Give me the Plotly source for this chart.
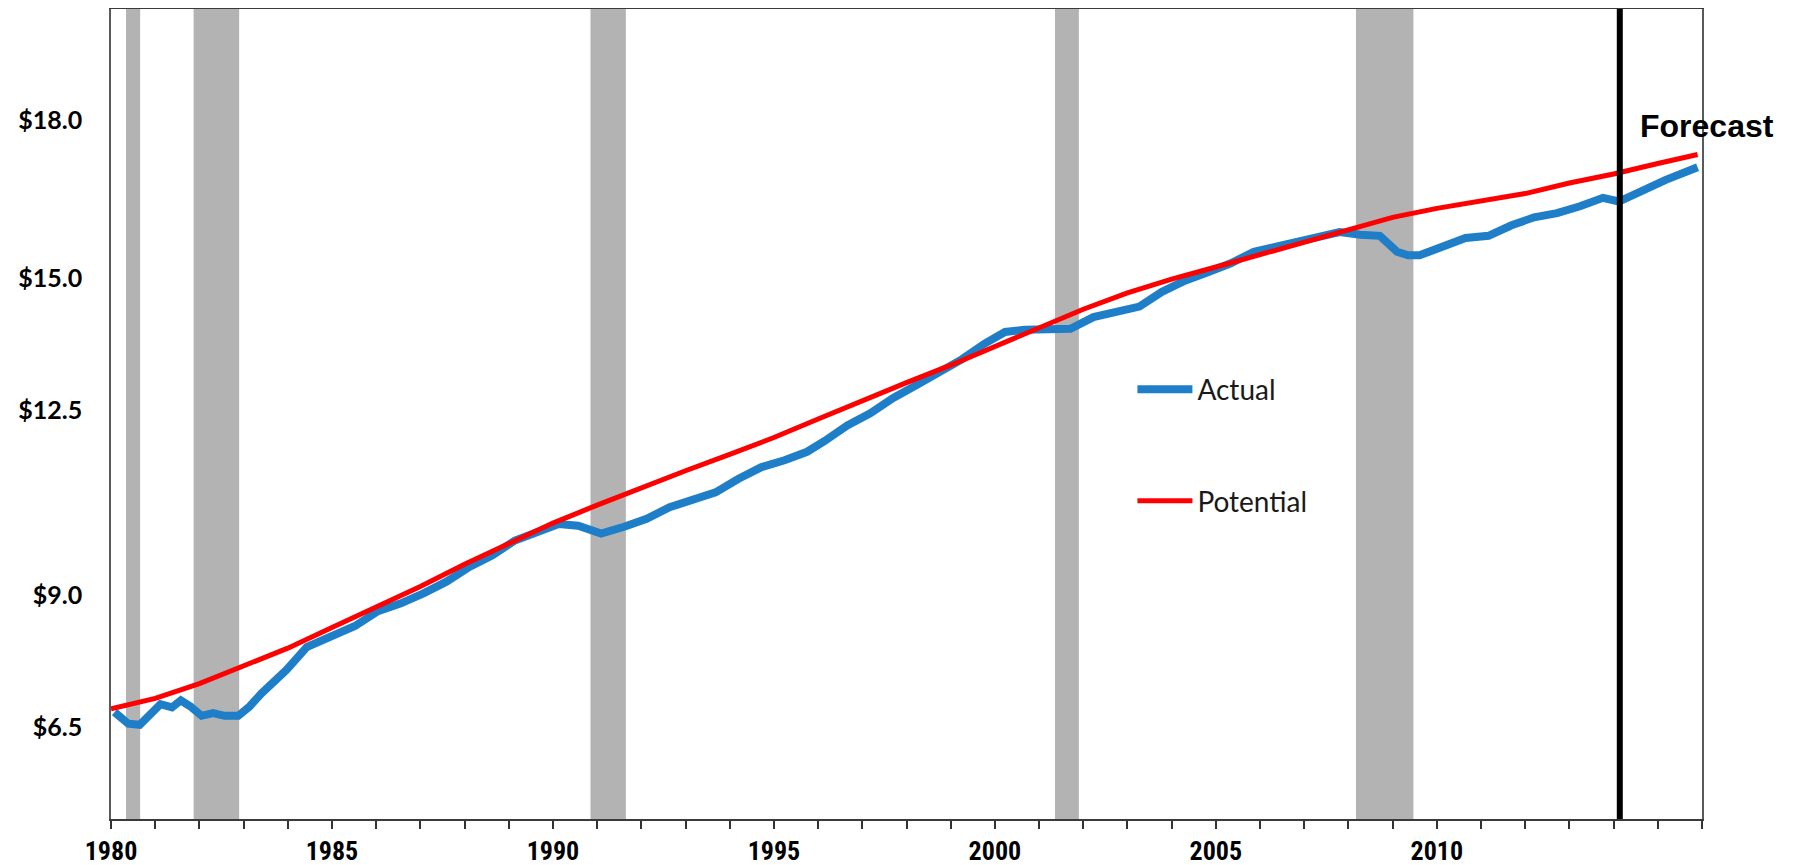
import plotly.graph_objects as go

# ---------------- data ----------------
actual_t = [1980.08, 1980.39, 1980.65, 1981.12, 1981.38, 1981.58, 1981.79, 1982.05, 1982.31,
            1982.57, 1982.88, 1983.14, 1983.40, 1983.97, 1984.43, 1985.00, 1985.52, 1986.04,
            1986.56, 1987.07, 1987.59, 1988.11, 1988.63, 1989.14, 1989.66, 1990.13, 1990.57,
            1991.09, 1991.61, 1992.12, 1992.64, 1993.16, 1993.68, 1994.20, 1994.72, 1995.24,
            1995.75, 1996.14, 1996.66, 1997.18, 1997.70, 1998.22, 1998.73, 1999.25, 1999.77,
            2000.23, 2000.67, 2001.19, 2001.71, 2002.23, 2002.75, 2003.27, 2003.78, 2004.30,
            2004.82, 2005.34, 2005.86, 2006.25, 2006.76, 2007.28, 2007.80, 2008.27, 2008.71,
            2009.10, 2009.35, 2009.61, 2010.13, 2010.65, 2011.17, 2011.69, 2012.20, 2012.72,
            2013.24, 2013.76, 2014.12, 2014.66, 2015.18, 2015.90]
actual_v = [6.79, 6.57, 6.55, 6.94, 6.88, 7.01, 6.90, 6.72, 6.77,
            6.72, 6.72, 6.90, 7.14, 7.59, 8.02, 8.24, 8.42, 8.70,
            8.85, 9.04, 9.26, 9.54, 9.76, 10.04, 10.22, 10.35, 10.32,
            10.17, 10.30, 10.45, 10.67, 10.80, 10.95, 11.21, 11.43, 11.56,
            11.72, 11.92, 12.22, 12.45, 12.74, 12.98, 13.23, 13.47, 13.77,
            13.99, 14.03, 14.05, 14.05, 14.27, 14.36, 14.47, 14.75, 14.96,
            15.12, 15.29, 15.51, 15.59, 15.68, 15.79, 15.88, 15.83, 15.81,
            15.51, 15.44, 15.44, 15.59, 15.77, 15.81, 16.01, 16.16, 16.24,
            16.37, 16.53, 16.46, 16.68, 16.87, 17.11]

potential_t = [1980.0, 1981, 1982, 1983, 1984, 1985, 1986, 1987, 1988, 1989, 1990, 1991,
               1992, 1993, 1994, 1995, 1996, 1997, 1998, 1999, 2000, 2001, 2002, 2003,
               2004, 2005, 2006, 2007, 2008, 2009, 2010, 2011, 2012, 2013, 2014, 2015, 2015.9]
potential_v = [6.85, 7.05, 7.33, 7.66, 8.00, 8.39, 8.78, 9.17, 9.59, 9.98, 10.37, 10.71,
               11.04, 11.36, 11.67, 11.99, 12.34, 12.69, 13.03, 13.36, 13.72, 14.08, 14.42, 14.73,
               14.99, 15.22, 15.46, 15.70, 15.94, 16.16, 16.33, 16.46, 16.61, 16.81, 16.98, 17.18, 17.35]

recession_start = [1980.34, 1981.87, 1990.85, 2001.36, 2008.17]
recession_end = [1980.66, 1982.90, 1991.65, 2001.90, 2009.47]

forecast_start = 2014.14

y_ticks = [6.5, 9.0, 12.5, 15.0, 18.0]
y_tick_text = ["$6.5", "$9.0", "$12.5", "$15.0", "$18.0"]
x_years = list(range(1980, 2017))
x_labeled = [1980, 1985, 1990, 1995, 2000, 2005, 2010]

# ---------------- figure ----------------
fig = go.Figure()

fig.add_trace(go.Scatter(
    x=actual_t, y=actual_v, mode="lines", name="Actual", legendgroup="a",
    line=dict(color="#1f7ec8", width=8),
))
fig.add_trace(go.Scatter(
    x=potential_t, y=potential_v, mode="lines", name="Potential", legendgroup="p",
    line=dict(color="#ff0000", width=5),
))

for s, e in zip(recession_start, recession_end):
    fig.add_shape(type="rect", xref="x", yref="paper", x0=s, x1=e, y0=0, y1=1,
                  fillcolor="#b3b3b3", line=dict(width=0), layer="below")

fig.add_shape(type="line", xref="x", yref="paper", x0=forecast_start, x1=forecast_start,
              y0=0, y1=1, line=dict(color="black", width=6))

fig.add_annotation(text="Forecast", xref="x", yref="paper", x=2014.55, y=0.856,
                   xanchor="left", yanchor="middle", showarrow=False,
                   font=dict(family="Liberation Sans, Arial", size=32, color="black", weight="bold"))

# the page body adds an 8px offset; figure size and margins compensate for it
fig.update_layout(
    width=1787, height=865, autosize=False,
    margin=dict(l=103, r=93, t=1, b=54, autoexpand=False),
    paper_bgcolor="white", plot_bgcolor="white",
    showlegend=True,
    legend=dict(x=0.642, y=0.561, xanchor="left", yanchor="top", itemwidth=55,
                bgcolor="rgba(0,0,0,0)", tracegroupgap=72,
                font=dict(family="Lato, Noto Sans", size=28, color="#1a1a1a")),
    xaxis=dict(range=[1980, 2016], tickmode="array", tickvals=x_years,
               ticktext=[str(y) if y in x_labeled else "" for y in x_years],
               ticks="outside", ticklen=8, tickwidth=1.5, tickcolor="#333333",
               showgrid=False, zeroline=False, automargin=False,
               showline=True, linecolor="#3a3a3a", linewidth=2, mirror=True,
               ticklabelstandoff=0,
               tickfont=dict(family="Liberation Sans Narrow, Roboto Condensed, Lato", size=26,
                             color="black", weight="bold")),
    yaxis=dict(range=[4.765, 20.106], tickmode="array", tickvals=y_ticks, ticktext=y_tick_text,
               ticks="", showgrid=False, zeroline=False, automargin=False,
               showline=True, linecolor="#5a5a5a", linewidth=1.5, mirror=True,
               ticklabelstandoff=22,
               tickfont=dict(family="Lato, Noto Sans", size=25, color="black", weight="bold")),
)

fig.write_html("out.html")
